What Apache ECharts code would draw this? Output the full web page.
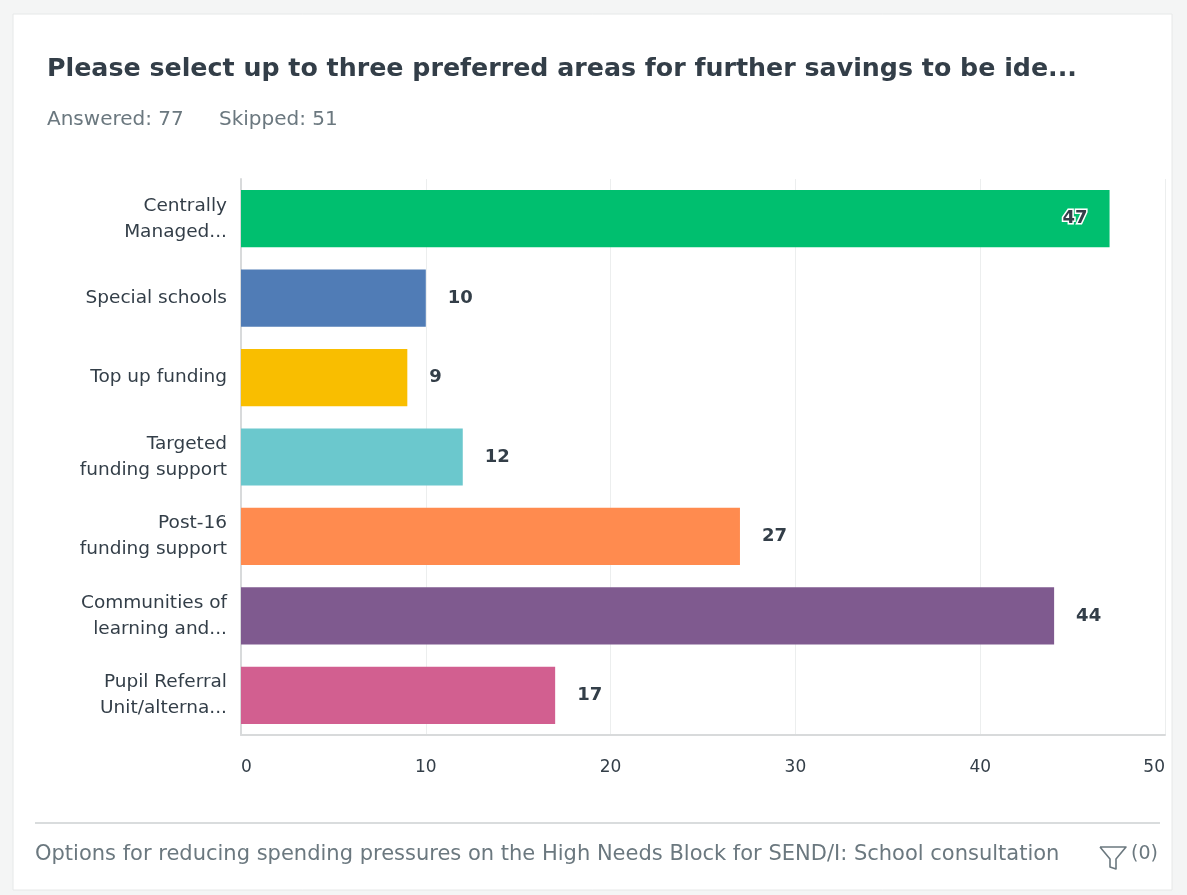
<!DOCTYPE html>
<html>
<head>
<meta charset="utf-8">
<script src="https://cdn.jsdelivr.net/npm/echarts@6/dist/echarts.min.js"></script>
<style>
  html, body { margin: 0; padding: 0; background: #f4f5f5; }
  #chart { width: 1187px; height: 895px; }
</style>
</head>
<body>
<div id="chart"></div>
<script>
// Survey question summary: answer choices and response counts
const categories = [
  'Centrally\nManaged...',
  'Special schools',
  'Top up funding',
  'Targeted\nfunding support',
  'Post-16\nfunding support',
  'Communities of\nlearning and...',
  'Pupil Referral\nUnit/alterna...'
];
const responses = [47, 10, 9, 12, 27, 44, 17];
const barColors = ['#00bf6f', '#507cb6', '#f9be00', '#6bc8cd', '#ff8b4f', '#7f5a8f', '#d25f90'];
const xTicks = [0, 10, 20, 30, 40, 50];

const titleText = 'Please select up to three preferred areas for further savings to be ide...';
const answeredText = 'Answered: 77';
const skippedText = 'Skipped: 51';
const footerText = 'Options for reducing spending pressures on the High Needs Block for SEND/I: School consultation';
const filterText = '(0)';

const FONT = '"DejaVu Sans", "Noto Sans", sans-serif';
const DARK = '#333e48';
const MUTED = '#6b787f';

const chart = echarts.init(document.getElementById('chart'));

const barData = responses.map((v, i) => {
  const item = { value: v, itemStyle: { color: barColors[i] } };
  // the longest bar carries its label inside its right end
  if (v === Math.max(...responses)) {
    item.label = {
      position: 'insideRight',
      distance: 22,
      color: DARK,
      textBorderColor: '#ffffff',
      textBorderWidth: 3
    };
  }
  return item;
});

chart.setOption({
  backgroundColor: '#f4f5f5',
  animation: false,
  graphic: [
    {
      type: 'rect', z: -10, silent: true,
      shape: { x: 13, y: 14, width: 1159, height: 876 },
      style: { fill: '#ffffff', stroke: '#e6e8e8', lineWidth: 1 }
    },
    {
      type: 'text', left: 47, top: 57,
      style: { text: titleText, font: 'bold 25.3px ' + FONT, fill: DARK }
    },
    {
      type: 'text', left: 47, top: 110,
      style: { text: answeredText, font: '20px ' + FONT, fill: MUTED }
    },
    {
      type: 'text', left: 219, top: 110,
      style: { text: skippedText, font: '20px ' + FONT, fill: MUTED }
    },
    {
      type: 'line', silent: true,
      shape: { x1: 35, y1: 823, x2: 1160, y2: 823 },
      style: { stroke: '#d9dcdd', lineWidth: 2 }
    },
    {
      type: 'text', left: 35, top: 844,
      style: { text: footerText, font: '21px ' + FONT, fill: MUTED }
    },
    {
      // funnel icon
      type: 'polyline', silent: true,
      shape: { points: [[1100, 847], [1126, 847], [1116, 859], [1116, 869], [1110, 867], [1110, 859], [1100, 847]] },
      style: { stroke: MUTED, lineWidth: 1.6, fill: 'none', lineJoin: 'round' }
    },
    {
      type: 'text', left: 1131, top: 845,
      style: { text: filterText, font: '19px ' + FONT, fill: MUTED }
    }
  ],
  grid: { left: 241, right: 22, top: 179, bottom: 160, containLabel: false },
  xAxis: {
    type: 'value',
    min: xTicks[0],
    max: xTicks[xTicks.length - 1],
    interval: 10,
    axisLine: { show: true, lineStyle: { color: '#d8dadb', width: 2 } },
    axisTick: { show: false },
    axisLabel: {
      color: DARK, fontSize: 17, fontFamily: FONT, margin: 24,
      alignMinLabel: 'left', alignMaxLabel: 'right'
    },
    splitLine: { show: true, lineStyle: { color: '#eceeee', width: 1 } }
  },
  yAxis: {
    type: 'category',
    data: categories,
    inverse: true,
    axisLine: { show: true, lineStyle: { color: '#d8dadb', width: 2 } },
    axisTick: { show: false },
    axisLabel: { color: DARK, fontSize: 18.5, fontFamily: FONT, margin: 14, lineHeight: 26, align: 'right' }
  },
  series: [{
    type: 'bar',
    data: barData,
    barWidth: '72%',
    label: {
      show: true,
      position: 'right',
      distance: 22,
      color: DARK,
      fontSize: 18,
      fontWeight: 'bold',
      fontFamily: FONT
    }
  }]
});
</script>
</body>
</html>
